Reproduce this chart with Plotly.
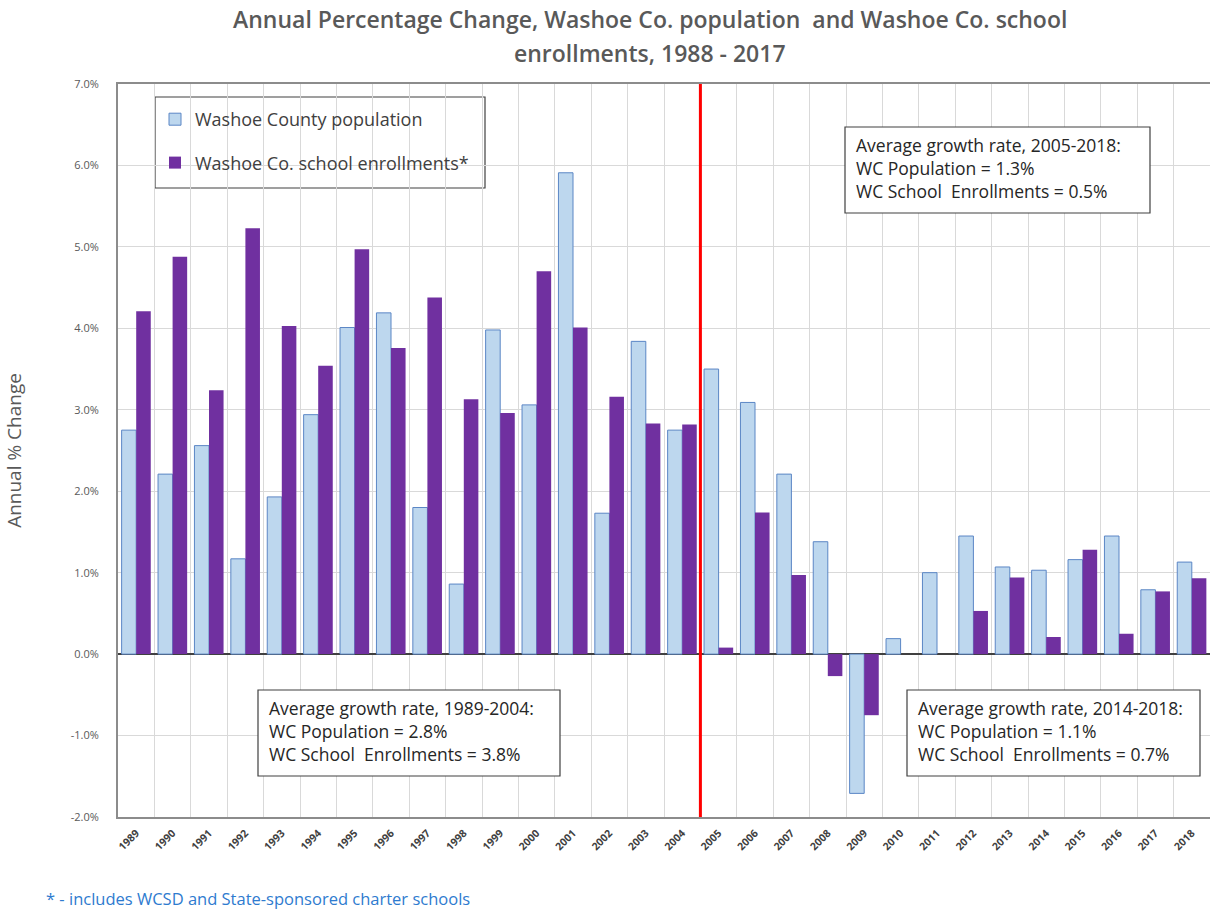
import plotly.graph_objects as go

years = ["1989", "1990", "1991", "1992", "1993", "1994", "1995", "1996", "1997", "1998",
         "1999", "2000", "2001", "2002", "2003", "2004", "2005", "2006", "2007", "2008",
         "2009", "2010", "2011", "2012", "2013", "2014", "2015", "2016", "2017", "2018"]

population = [2.75, 2.21, 2.56, 1.17, 1.93, 2.94, 4.01, 4.19, 1.80, 0.86,
              3.98, 3.06, 5.91, 1.73, 3.84, 2.75, 3.50, 3.09, 2.21, 1.38,
              -1.71, 0.19, 1.00, 1.45, 1.07, 1.03, 1.16, 1.45, 0.79, 1.13]

enrollments = [4.21, 4.88, 3.24, 5.23, 4.03, 3.54, 4.97, 3.76, 4.38, 3.13,
               2.96, 4.70, 4.01, 3.16, 2.83, 2.82, 0.08, 1.74, 0.97, -0.27,
               -0.75, 0.0, 0.0, 0.53, 0.94, 0.21, 1.28, 0.25, 0.77, 0.93]

y_ticks = [-2, -1, 0, 1, 2, 3, 4, 5, 6, 7]
y_tick_labels = ["-2.0%", "-1.0%", "0.0%", "1.0%", "2.0%", "3.0%", "4.0%", "5.0%", "6.0%", "7.0%"]

divider_after = "2004"

boxes = [
    ("Average growth rate, 2005-2018:<br>WC Population = 1.3%<br>WC School  Enrollments = 0.5%",
     (845, 127, 1150, 213)),
    ("Average growth rate, 1989-2004:<br>WC Population = 2.8%<br>WC School  Enrollments = 3.8%",
     (258, 690, 560, 776)),
    ("Average growth rate, 2014-2018:<br>WC Population = 1.1%<br>WC School  Enrollments = 0.7%",
     (907, 690, 1200, 776)),
]

W, H = 1210, 909
L, R, T, B = 118, 1210, 84, 817


def px(x):
    return (x - L) / (R - L)


def py(y):
    return (B - y) / (B - T)


FONT = "'Open Sans', 'Liberation Sans', Arial, sans-serif"
GRAY = "#595959"

fig = go.Figure()
fig.add_trace(go.Bar(
    x=years, y=population, name="Washoe County population",
    marker=dict(color="#BDD7EE", line=dict(color="#5B86C5", width=1)),
    legendgroup="a",
))
fig.add_trace(go.Bar(
    x=years, y=enrollments, name="Washoe Co. school enrollments*",
    marker=dict(color="#7030A0", line=dict(width=0)),
    legendgroup="b",
))

shapes = []
# legend box
shapes.append(dict(type="rect", xref="paper", yref="paper",
                   x0=px(155), x1=px(485), y0=py(97), y1=py(188),
                   line=dict(color="#404040", width=1.2), fillcolor="white", layer="below"))
# divider line
idx = years.index(divider_after) + 0.5
shapes.append(dict(type="line", xref="x", yref="paper", x0=idx, x1=idx, y0=0, y1=1,
                   line=dict(color="#FF0000", width=3)))

annotations = []
for text, (x0, y0, x1, y1) in boxes:
    shapes.append(dict(type="rect", xref="paper", yref="paper",
                       x0=px(x0), x1=px(x1), y0=py(y0), y1=py(y1),
                       line=dict(color="#404040", width=1.2), fillcolor="white", layer="above"))
    annotations.append(dict(text=text, xref="paper", yref="paper",
                            x=px(x0 + 9), y=py(y0 + 4), xanchor="left", yanchor="top",
                            align="left", showarrow=False,
                            font=dict(family=FONT, size=17.5, color="#262626")))

annotations.append(dict(text="Annual Percentage Change, Washoe Co. population  and Washoe Co. school",
                        xref="paper", yref="paper", x=px(650), y=py(19), xanchor="center",
                        yanchor="middle", showarrow=False,
                        font=dict(family=FONT, size=23, color=GRAY, weight=600)))
annotations.append(dict(text="enrollments, 1988 - 2017",
                        xref="paper", yref="paper", x=px(650), y=py(53), xanchor="center",
                        yanchor="middle", showarrow=False,
                        font=dict(family=FONT, size=23, color=GRAY, weight=600)))
annotations.append(dict(text="* - includes WCSD and State-sponsored charter schools",
                        xref="paper", yref="paper", x=px(44), y=py(898), xanchor="left",
                        yanchor="middle", showarrow=False,
                        font=dict(family=FONT, size=16.5, color="#2E7BCF")))

fig.update_layout(
    width=W, height=H,
    margin=dict(l=L, r=W - R, t=T, b=H - B, pad=0, autoexpand=False),
    paper_bgcolor="white", plot_bgcolor="white",
    barmode="group", bargap=0.2, bargroupgap=0.0,
    font=dict(family=FONT, color=GRAY),
    showlegend=True,
    legend=dict(x=px(155), y=py(101), xanchor="left", yanchor="top",
                bgcolor="rgba(0,0,0,0)", borderwidth=0,
                font=dict(family=FONT, size=18, color="#404040"),
                tracegroupgap=17, traceorder="grouped"),
    shapes=shapes,
    annotations=annotations,
)

fig.update_xaxes(
    type="category", tickson="boundaries", showgrid=True, gridcolor="#D9D9D9", gridwidth=1,
    tickangle=-45, tickfont=dict(family=FONT, size=10.5, color="#404040", weight="bold"),
    showline=True, linecolor="#8C8C8C", linewidth=2, mirror=True, ticks="",
    ticklabelstandoff=4, automargin=False,
)
fig.update_yaxes(
    range=[-2, 7], tickvals=y_ticks, ticktext=y_tick_labels,
    showgrid=True, gridcolor="#D9D9D9", gridwidth=1,
    zeroline=True, zerolinecolor="#404040", zerolinewidth=1.5,
    showline=True, linecolor="#8C8C8C", linewidth=2, ticks="",
    tickfont=dict(family=FONT, size=11, color=GRAY),
    ticklabelstandoff=15, automargin=False,
    title=dict(text="Annual % Change", font=dict(family=FONT, size=19, color=GRAY), standoff=44),
)

fig.write_html("out.html",
               config={"displayModeBar": False},
               post_script="document.body.style.margin='0px';document.body.style.overflow='hidden';")
